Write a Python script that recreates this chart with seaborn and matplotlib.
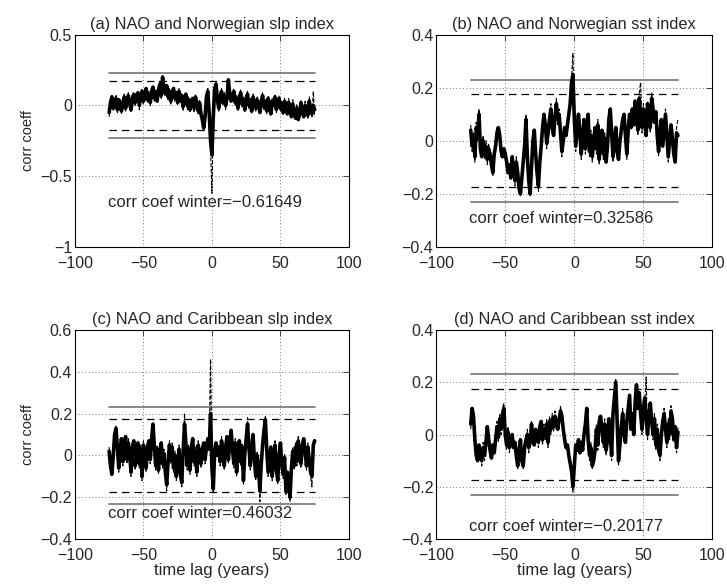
import numpy as np
import matplotlib
matplotlib.use("Agg")
import matplotlib.pyplot as plt
import seaborn as sns
from matplotlib.ticker import FuncFormatter

# %% data
lags = np.arange(-75, 76)

# (a) NAO vs Norwegian slp
a_thick = [-0.05, 0.02, 0.06, -0.02, 0.03, 0.05, -0.03, 0.04, 0.01, -0.04,
           0.02, 0.06, -0.02, 0.04, 0.07, 0.01, -0.03, 0.05, 0.08, 0.02,
           0.06, 0.09, 0.0, 0.05, 0.1, 0.03, 0.07, 0.12, 0.04, 0.08,
           0.02, 0.1, 0.13, 0.05, 0.09, 0.03, 0.11, 0.15, 0.07, 0.2,
           0.12, 0.08, 0.14, 0.06, 0.1, 0.03, 0.09, 0.12, 0.05, 0.08,
           0.02, 0.1, 0.04, 0.07, -0.01, 0.05, 0.08, 0.0, 0.04, -0.03,
           0.03, 0.05, -0.02, 0.06, 0.01, -0.04, 0.02, -0.06, -0.1, -0.16,
           -0.08, 0.06, 0.1, -0.05, -0.25, -0.35, -0.08, 0.12, 0.15, 0.04,
           -0.02, 0.06, 0.1, 0.02, 0.07, 0.0, 0.05, 0.18, 0.08, 0.03,
           0.07, 0.1, 0.02, 0.05, -0.02, 0.06, 0.09, 0.01, 0.04, -0.03,
           0.05, 0.08, 0.0, 0.03, -0.04, 0.06, 0.02, -0.02, 0.04, 0.0,
           -0.05, 0.03, 0.07, -0.01, 0.02, -0.04, 0.05, 0.01, -0.06, 0.03,
           0.0, 0.06, -0.03, 0.02, 0.05, -0.02, 0.01, -0.05, 0.03, 0.0,
           -0.06, 0.02, -0.03, -0.08, 0.01, -0.04, -0.09, -0.02, -0.1, -0.06,
           0.02, -0.05, -0.08, 0.0, -0.04, -0.07, 0.03, -0.02, -0.06, 0.0, -0.03]
a_thin = [-0.08, 0.0, 0.08, -0.04, 0.01, 0.07, -0.05, 0.02, 0.04, -0.06,
          0.0, 0.08, -0.04, 0.02, 0.09, -0.01, -0.05, 0.07, 0.06, 0.0,
          0.08, 0.07, -0.03, 0.07, 0.12, 0.01, 0.09, 0.1, 0.02, 0.1,
          0.0, 0.12, 0.1, 0.03, 0.11, 0.05, 0.09, 0.17, 0.05, 0.21,
          0.1, 0.1, 0.12, 0.04, 0.12, 0.01, 0.11, 0.1, 0.03, 0.1,
          0.0, 0.12, 0.02, 0.09, -0.04, 0.07, 0.06, -0.03, 0.06, -0.05,
          0.05, 0.03, -0.05, 0.08, -0.01, -0.06, 0.04, -0.08, -0.12, -0.18,
          -0.06, 0.08, 0.12, -0.1, -0.3, -0.62, -0.12, 0.1, 0.17, 0.02,
          -0.04, 0.08, 0.12, 0.0, 0.09, -0.03, 0.07, 0.19, 0.06, 0.05,
          0.05, 0.12, 0.0, 0.07, -0.04, 0.08, 0.11, -0.01, 0.06, -0.05,
          0.07, 0.1, -0.02, 0.05, -0.06, 0.08, 0.04, -0.04, 0.06, -0.02,
          -0.03, 0.05, 0.09, -0.03, 0.04, -0.06, 0.07, 0.03, -0.04, 0.05,
          0.02, 0.08, -0.05, 0.04, 0.07, -0.04, 0.03, -0.07, 0.05, 0.02,
          -0.04, 0.05, -0.01, -0.06, 0.04, -0.02, -0.07, 0.01, -0.08, -0.04,
          0.04, -0.02, -0.06, 0.03, -0.01, -0.09, 0.06, 0.01, -0.08, 0.1, -0.08]

# (b) NAO vs Norwegian sst
b_thick = [0.04, -0.02, 0.01, -0.06, 0.05, 0.02, 0.1, -0.03, -0.06, 0.0,
           -0.05, -0.02, -0.07, -0.03, -0.05, -0.09, -0.12, -0.05, -0.02, 0.03,
           0.05, 0.02, -0.04, -0.06, -0.03, -0.05, -0.08, -0.12, -0.09, -0.14,
           -0.06, -0.11, -0.15, -0.08, -0.12, -0.18, -0.2, -0.14, -0.08, -0.02,
           0.08, -0.06, -0.15, -0.2, -0.1, 0.0, 0.04, -0.05, -0.12, -0.17,
           -0.08, -0.02, 0.05, 0.1, 0.06, -0.01, 0.03, 0.08, 0.12, 0.05,
           0.02, 0.09, 0.14, 0.08, 0.1, 0.03, -0.04, 0.0, 0.05, 0.02,
           0.06, 0.1, 0.14, 0.22, 0.25, 0.08, -0.02, 0.04, 0.1, 0.03,
           -0.05, 0.02, 0.08, -0.03, 0.04, 0.1, -0.04, 0.02, -0.06, 0.0,
           0.05, -0.03, 0.06, -0.07, 0.02, 0.04, -0.05, 0.01, -0.08, -0.02,
           0.08, 0.12, 0.03, -0.06, -0.01, 0.05, -0.04, -0.07, 0.0, 0.04,
           0.08, 0.1, 0.02, -0.05, 0.04, 0.1, 0.05, 0.12, 0.06, 0.15,
           0.09, 0.04, 0.16, 0.1, 0.05, 0.12, 0.08, 0.02, 0.14, 0.1,
           0.05, 0.16, 0.12, 0.07, 0.11, 0.02, -0.04, 0.03, 0.08, -0.02,
           0.04, 0.1, 0.02, -0.06, 0.0, 0.06, 0.01, -0.05, -0.08, 0.03, 0.02]
b_thin = [0.06, -0.04, 0.03, -0.08, 0.07, 0.0, 0.12, -0.05, -0.04, 0.02,
          -0.07, 0.0, -0.09, -0.01, -0.07, -0.07, -0.13, -0.03, -0.04, 0.05,
          0.03, 0.04, -0.06, -0.04, -0.05, -0.03, -0.1, -0.1, -0.11, -0.12,
          -0.08, -0.09, -0.17, -0.06, -0.14, -0.16, -0.21, -0.12, -0.1, 0.0,
          0.1, -0.08, -0.13, -0.21, -0.08, 0.02, 0.02, -0.07, -0.1, -0.19,
          -0.06, -0.04, 0.07, 0.08, 0.08, -0.03, 0.05, 0.06, 0.14, 0.03,
          0.04, 0.07, 0.16, 0.06, 0.12, 0.01, -0.06, 0.02, 0.03, 0.04,
          0.04, 0.12, 0.12, 0.24, 0.33, 0.06, -0.04, 0.06, 0.08, 0.05,
          -0.07, 0.04, 0.06, -0.05, 0.06, 0.08, -0.06, 0.04, -0.08, 0.02,
          0.03, -0.05, 0.08, -0.09, 0.04, 0.02, -0.07, 0.03, -0.06, -0.04,
          0.1, 0.1, 0.05, -0.08, 0.01, 0.03, -0.06, -0.05, 0.02, 0.02,
          0.1, 0.08, 0.04, -0.07, 0.06, 0.08, 0.07, 0.1, 0.08, 0.13,
          0.11, 0.02, 0.18, 0.22, 0.03, 0.14, 0.06, 0.04, 0.12, 0.12,
          0.03, 0.18, 0.1, 0.09, 0.09, 0.04, -0.06, 0.05, 0.06, 0.0,
          0.02, 0.12, 0.0, -0.08, 0.02, 0.04, 0.03, -0.07, -0.06, 0.05, 0.08]

# (c) NAO vs Caribbean slp
c_thick = [0.02, -0.05, -0.09, 0.0, 0.1, 0.13, 0.04, -0.06, 0.02, 0.08,
           -0.03, 0.05, 0.09, -0.02, 0.06, 0.0, -0.08, 0.04, 0.07, -0.05,
           0.02, 0.06, -0.04, 0.03, -0.1, 0.05, 0.01, -0.06, 0.04, 0.07,
           -0.02, 0.08, 0.15, 0.04, -0.05, 0.03, -0.07, 0.02, 0.06, -0.04,
           0.01, -0.08, -0.14, -0.03, 0.05, -0.02, 0.04, -0.06, 0.0, -0.1,
           -0.04, 0.03, -0.09, -0.13, 0.02, 0.15, 0.06, -0.05, 0.03, -0.07,
           0.04, 0.08, -0.03, 0.02, -0.08, 0.05, 0.01, -0.04, 0.03, 0.06,
           -0.02, 0.04, 0.08, 0.03, 0.2, -0.06, -0.16, 0.02, 0.06, 0.0,
           0.04, -0.03, 0.07, 0.02, -0.05, 0.04, 0.09, -0.02, 0.05, 0.12,
           0.03, -0.04, 0.06, -0.08, 0.02, 0.07, -0.03, 0.04, -0.12, 0.01,
           0.08, 0.15, 0.04, -0.05, 0.03, 0.1, -0.02, -0.1, 0.0, -0.06,
           -0.17, -0.04, 0.05, 0.12, 0.17, 0.03, -0.08, -0.02, 0.04, -0.1,
           -0.03, 0.05, -0.06, -0.12, 0.0, 0.06, -0.04, -0.09, -0.01, -0.17,
           -0.08, -0.12, -0.2, -0.06, 0.02, -0.05, 0.04, -0.03, 0.07, 0.01,
           -0.04, 0.05, 0.08, 0.02, -0.05, 0.04, -0.02, -0.08, -0.1, 0.05, 0.07]
c_thin = [0.04, -0.07, -0.07, 0.02, 0.08, 0.14, 0.02, -0.08, 0.04, 0.06,
          -0.05, 0.07, 0.07, -0.04, 0.08, -0.02, -0.1, 0.06, 0.05, -0.07,
          0.04, 0.04, -0.06, 0.05, -0.12, 0.07, -0.01, -0.08, 0.06, 0.05,
          -0.04, 0.1, 0.13, 0.06, -0.07, 0.05, -0.09, 0.04, 0.04, -0.06,
          0.03, -0.1, -0.17, -0.01, 0.07, -0.04, 0.06, -0.08, 0.02, -0.12,
          -0.02, 0.05, -0.11, -0.15, 0.04, 0.2, 0.04, -0.07, 0.05, -0.09,
          0.06, 0.06, -0.05, 0.04, -0.1, 0.07, -0.01, -0.06, 0.05, 0.04,
          -0.04, 0.06, 0.06, 0.05, 0.46, -0.02, -0.18, 0.04, 0.04, 0.02,
          0.02, -0.05, 0.09, 0.0, -0.07, 0.06, 0.07, -0.04, 0.07, 0.1,
          0.05, -0.06, 0.08, -0.1, 0.04, 0.05, -0.05, 0.06, -0.14, 0.03,
          0.06, 0.18, 0.02, -0.07, 0.05, 0.08, -0.04, -0.12, 0.02, -0.08,
          -0.22, -0.02, 0.07, 0.1, 0.19, 0.01, -0.1, 0.0, 0.02, -0.12,
          -0.01, 0.07, -0.08, -0.14, 0.02, 0.04, -0.06, -0.11, 0.01, -0.19,
          -0.1, -0.1, -0.22, -0.04, 0.04, -0.07, 0.06, -0.05, 0.09, -0.01,
          -0.06, 0.07, 0.06, 0.04, -0.07, 0.06, -0.04, -0.1, -0.15, 0.07, 0.08]

# (d) NAO vs Caribbean sst
d_thick = [0.04, 0.1, 0.07, -0.02, -0.08, -0.1, -0.04, -0.07, -0.1, -0.05,
           -0.08, -0.03, 0.03, -0.02, -0.06, -0.09, -0.04, -0.07, -0.02, 0.03,
           -0.01, 0.06, 0.02, 0.08, 0.1, 0.0, -0.04, 0.01, -0.05, -0.02,
           0.0, -0.05, -0.03, -0.08, -0.12, -0.06, -0.02, -0.1, -0.12, -0.05,
           -0.02, 0.0, -0.05, -0.03, 0.04, -0.02, -0.04, 0.02, 0.0, -0.03,
           0.03, 0.05, -0.02, 0.02, 0.0, 0.04, -0.03, 0.05, 0.02, 0.06,
           0.03, 0.07, 0.04, 0.02, 0.06, 0.09, 0.07, 0.02, -0.02, -0.05,
           -0.04, -0.08, -0.11, -0.14, -0.2, -0.12, -0.04, -0.06, -0.02, -0.07,
           -0.03, -0.06, 0.0, 0.04, 0.1, -0.02, -0.08, -0.05, -0.12, -0.1,
           -0.06, 0.02, -0.04, 0.05, 0.07, 0.02, -0.03, 0.04, -0.06, -0.02,
           0.06, 0.0, -0.08, 0.08, 0.14, 0.2, 0.05, -0.1, -0.04, 0.03,
           0.08, 0.0, -0.03, 0.05, 0.1, 0.15, 0.02, 0.08, 0.0, 0.12,
           0.19, 0.1, 0.16, 0.08, 0.02, 0.1, 0.14, 0.06, 0.0, 0.08,
           0.12, 0.05, 0.0, 0.06, -0.04, 0.02, -0.06, -0.08, 0.0, 0.05,
           0.08, 0.02, -0.03, 0.04, 0.0, 0.09, 0.06, -0.02, 0.03, -0.05, 0.01]
d_thin = [0.02, 0.09, 0.09, 0.0, -0.1, -0.08, -0.06, -0.05, -0.12, -0.03,
          -0.1, -0.01, 0.01, -0.04, -0.08, -0.07, -0.06, -0.05, -0.04, 0.05,
          -0.03, 0.08, 0.0, 0.1, 0.12, -0.02, -0.06, 0.03, -0.07, 0.0,
          -0.02, -0.03, -0.05, -0.06, -0.13, -0.04, -0.04, -0.08, -0.13, -0.03,
          -0.04, 0.02, -0.07, -0.01, 0.05, -0.04, -0.02, 0.0, 0.02, -0.05,
          0.05, 0.03, -0.04, 0.04, -0.02, 0.06, -0.05, 0.07, 0.0, 0.08,
          0.01, 0.09, 0.02, 0.04, 0.04, 0.11, 0.05, 0.04, -0.04, -0.03,
          -0.06, -0.06, -0.13, -0.12, -0.22, -0.1, -0.06, -0.04, -0.04, -0.05,
          -0.05, -0.04, -0.02, 0.06, 0.08, 0.0, -0.1, -0.03, -0.13, -0.08,
          -0.08, 0.04, -0.06, 0.07, 0.05, 0.04, -0.05, 0.06, -0.08, 0.0,
          0.04, 0.02, -0.1, 0.1, 0.12, 0.21, 0.03, -0.12, -0.02, 0.01,
          0.1, -0.02, -0.01, 0.03, 0.12, 0.13, 0.04, 0.06, 0.02, 0.1,
          0.17, 0.12, 0.14, 0.1, 0.0, 0.12, 0.12, 0.22, -0.02, 0.1,
          0.1, 0.07, -0.02, 0.08, -0.06, 0.04, -0.04, -0.1, 0.02, 0.03,
          0.1, 0.0, -0.05, 0.06, -0.02, 0.11, 0.04, 0.0, 0.01, -0.07, 0.03]

titles = ["(a) NAO and Norwegian slp index", "(b) NAO and Norwegian sst index",
          "(c) NAO and Caribbean slp index", "(d) NAO and Caribbean sst index"]
winter_coef = ["\u22120.61649", "0.32586", "0.46032", "\u22120.20177"]
sig_95 = 0.23
sig_90 = 0.175
ylims = [(-1, 0.5), (-0.4, 0.4), (-0.4, 0.6), (-0.4, 0.4)]
yticks = [[-1, -0.5, 0, 0.5], [-0.4, -0.2, 0, 0.2, 0.4],
          [-0.4, -0.2, 0, 0.2, 0.4, 0.6], [-0.4, -0.2, 0, 0.2, 0.4]]
text_y = [-0.72, -0.31, -0.3, -0.37]
thick = [a_thick, b_thick, c_thick, d_thick]
thin = [a_thin, b_thin, c_thin, d_thin]

# %% plot
sns.set_style("white", {"xtick.direction": "in", "ytick.direction": "in"})
plt.rcParams["font.family"] = ["Liberation Sans", "DejaVu Sans"]
plt.rcParams["axes.unicode_minus"] = True

fig, axes = plt.subplots(2, 2, figsize=(7.27, 5.88), dpi=100)
positions = [[0.103, 0.580, 0.377, 0.361], [0.600, 0.580, 0.380, 0.361],
             [0.103, 0.083, 0.377, 0.356], [0.600, 0.083, 0.380, 0.356]]

fmt = FuncFormatter(lambda v, p: ("%g" % round(v, 3)).replace("-", "\u2212"))

for i, ax in enumerate(axes.flat):
    ax.set_position(positions[i])
    ax.grid(True, linestyle=(0, (1, 3)), color="k", linewidth=0.6, alpha=0.7)
    for s in (1, -1):
        ax.plot([-75, 75], [s * sig_95] * 2, color="#7f7f7f", lw=1.3)
        ax.plot([-75, 75], [s * sig_90] * 2, color="k", lw=0.9,
                dashes=(6, 4))
    sns.lineplot(x=lags, y=thin[i], ax=ax, color="k", lw=0.8,
                 linestyle="--")
    sns.lineplot(x=lags, y=thick[i], ax=ax, color="k", lw=2.6)
    ax.set_xlim(-100, 100)
    ax.set_ylim(*ylims[i])
    ax.set_xticks([-100, -50, 0, 50, 100])
    ax.set_yticks(yticks[i])
    ax.xaxis.set_major_formatter(fmt)
    ax.yaxis.set_major_formatter(fmt)
    ax.tick_params(labelsize=11.5, top=True, right=True, length=4,
                   width=0.6)
    ax.tick_params(axis="x", pad=6.5)
    ax.tick_params(axis="y", pad=2)
    for sp in ax.spines.values():
        sp.set_color("k")
        sp.set_linewidth(0.8)
    ax.set_title(titles[i], fontsize=11.8, pad=4)
    ax.text(-76, text_y[i], "corr coef winter=" + winter_coef[i],
            fontsize=12)
    ax.set_xlabel("")
    ax.set_ylabel("")

axes[0, 0].set_ylabel("corr coeff", fontsize=10.5)
axes[1, 0].set_ylabel("corr coeff", fontsize=10.5)
axes[1, 0].set_xlabel("time lag (years)", fontsize=12, labelpad=0)
axes[1, 1].set_xlabel("time lag (years)", fontsize=12, labelpad=0)

fig.savefig("out.png", dpi=100)
